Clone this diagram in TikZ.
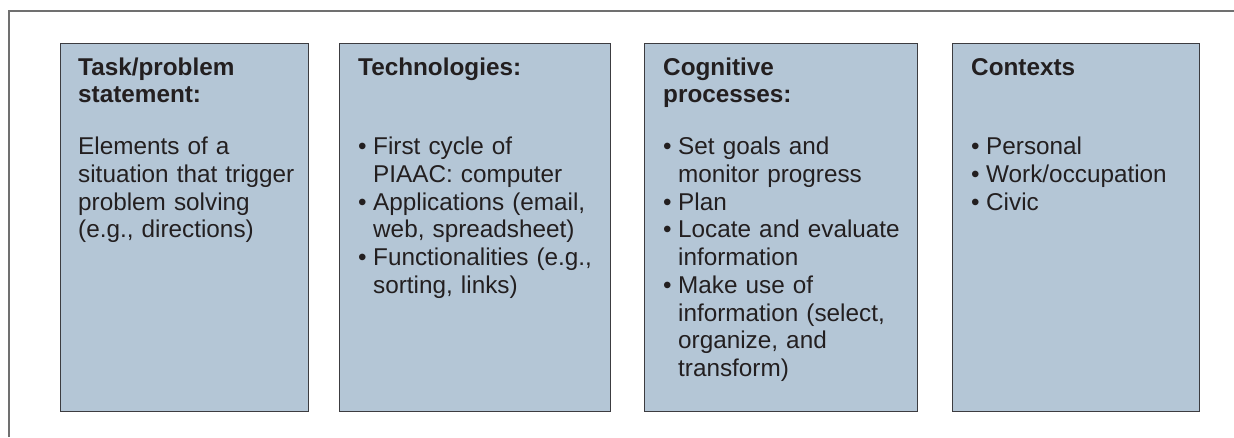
\documentclass[tikz,border=0pt]{standalone}
\usepackage{fontspec}
\setmainfont{Liberation Sans}
\usepackage{xcolor}
\usepackage{tikz}

\definecolor{boxblue}{RGB}{180,198,214}
\definecolor{boxline}{RGB}{60,60,64}
\definecolor{frameline}{RGB}{112,112,112}
\definecolor{ink}{RGB}{35,31,32}
\newcommand{\bul}{\makebox[15pt][l]{\textbullet}}
\newcommand{\ind}{\hspace*{15pt}}

\begin{document}
\begin{tikzpicture}[x=1pt,y=1pt,
    panel/.style={draw=boxline,line width=1.4pt,fill=boxblue,anchor=north west,minimum height=368pt},
    head/.style={anchor=base west,text width=250pt,align=left,text=ink,font=\bfseries\fontsize{24.3}{27.75}\selectfont},
    body/.style={anchor=base west,text width=250pt,align=left,text=ink,font=\fontsize{24.3}{27.75}\selectfont}]
                \tikzstyle{every node}+=[inner sep=0pt]
                \useasboundingbox (0,0) rectangle (1234,-437);
                \draw [frameline,line width=1.2pt] (9,-437) -- (9,-11) -- (1234,-11);
                % the four panels
                \node [panel,minimum width=248pt] (task) at (60,-43) {};
                \node [panel,minimum width=271pt] (tech) at (339,-43) {};
                \node [panel,minimum width=273pt] (cogn) at (644,-43) {};
                \node [panel,minimum width=247pt] (cont) at (952,-43) {};
                % headings
                \node [head] (taskhead) at (78,-75) {Task/problem\\statement:};
                \node [head] (techhead) at (358,-75) {Technologies:};
                \node [head] (cognhead) at (663,-75) {Cognitive\\processes:};
                \node [head] (conthead) at (971,-75) {Contexts};
                % contents
                \node [body] (taskbody) at (78,-154.5) {Elements of a\\situation that trigger\\problem solving\\(e.g., directions)};
                \node [body] (techbody) at (358,-154.5) {\bul First cycle of\\\ind PIAAC: computer\\\bul Applications (email,\\\ind web, spreadsheet)\\\bul Functionalities (e.g.,\\\ind sorting, links)};
                \node [body] (cognbody) at (663,-154.5) {\bul Set goals and\\\ind monitor progress\\\bul Plan\\\bul Locate and evaluate\\\ind information\\\bul Make use of\\\ind information (select,\\\ind organize, and\\\ind transform)};
                \node [body] (contbody) at (971,-154.5) {\bul Personal\\\bul Work/occupation\\\bul Civic};
            \end{tikzpicture}
\end{document}
